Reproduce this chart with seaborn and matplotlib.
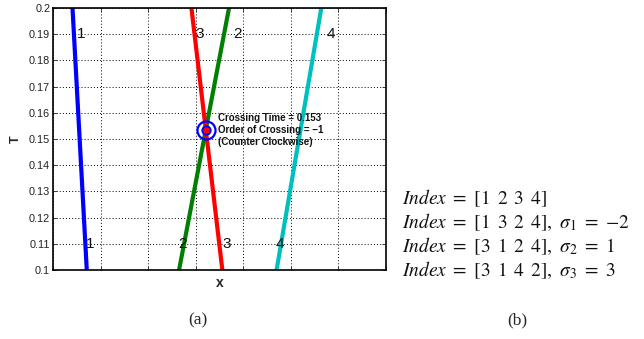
import matplotlib
matplotlib.use("Agg")
import matplotlib.pyplot as plt
import seaborn as sns
import pandas as pd
import numpy as np

# ---- data ----
paths = ["1", "2", "3", "4"]
x_bottom = [0.71, 2.65, 3.56, 4.70]   # x at T = 0.1
x_top = [0.41, 3.70, 2.91, 5.64]      # x at T = 0.2
t_bottom = 0.1
t_top = 0.2
path_colors = ["#0000ff", "#008000", "#ff0000", "#00bfbf"]

top_label_x = [0.60, 3.88, 3.09, 5.84]
top_label_t = 0.19
bottom_label_x = [0.79, 2.72, 3.65, 4.77]
bottom_label_t = 0.11

cross_x = 3.21
cross_t = 0.1534
cross_text = ["Crossing Time = 0.153", "Order of Crossing = \u22121", "(Counter Clockwise)"]

ytick_vals = [0.1, 0.11, 0.12, 0.13, 0.14, 0.15, 0.16, 0.17, 0.18, 0.19, 0.2]
ytick_labels = ["0.1", "0.11", "0.12", "0.13", "0.14", "0.15", "0.16", "0.17", "0.18", "0.19", "0.2"]
xtick_vals = [0, 1, 2, 3, 4, 5, 6, 7]

index_lines = [
    r"$Index\ =\ [1\ \,2\ \,3\ \,4]$",
    r"$Index\ =\ [1\ \,3\ \,2\ \,4],\ \sigma_1\ =\ {-}2$",
    r"$Index\ =\ [3\ \,1\ \,2\ \,4],\ \sigma_2\ =\ 1$",
    r"$Index\ =\ [3\ \,1\ \,4\ \,2],\ \sigma_3\ =\ 3$",
]

# ---- build table ----
rows = []
for p, xb, xt in zip(paths, x_bottom, x_top):
    rows.append({"x": xb, "T": t_bottom, "path": p})
    rows.append({"x": xt, "T": t_top, "path": p})
df = pd.DataFrame(rows)

sns.set_style("white")
plt.rcParams["font.family"] = ["Liberation Sans", "DejaVu Sans"]
plt.rcParams["mathtext.fontset"] = "stix"

fig = plt.figure(figsize=(6.44, 3.39), dpi=100)
ax = fig.add_axes([53 / 644, 1 - 270 / 339, (386 - 53) / 644, (270 - 8) / 339])

sns.lineplot(data=df, x="x", y="T", hue="path", palette=path_colors,
             sort=False, estimator=None, linewidth=3.0, legend=False, ax=ax)

ax.set_xlim(0, 7)
ax.set_ylim(0.1, 0.2)
ax.set_xticks(xtick_vals)
ax.set_xticklabels([])
ax.set_yticks(ytick_vals)
ax.set_yticklabels(ytick_labels, fontsize=7.8, color="#222222")
ax.tick_params(direction="in", length=3, width=0.6, top=True, right=True,
               bottom=True, left=True, pad=2)
ax.grid(True, linestyle=(0, (1, 2.2)), color="black", linewidth=0.7)
for s in ax.spines.values():
    s.set_color("black")
    s.set_linewidth(1.2)
ax.set_xlabel("x", fontsize=10, fontweight="bold", labelpad=2)
ax.set_ylabel("T", fontsize=9, fontweight="bold", labelpad=5)

for lx, p in zip(top_label_x, paths):
    ax.text(lx, top_label_t, p, fontsize=11, ha="center", va="center", color="#111111")
for lx, p in zip(bottom_label_x, paths):
    ax.text(lx, bottom_label_t, p, fontsize=11, ha="center", va="center", color="#111111")

# crossing marker
ax.plot([cross_x], [cross_t], marker="o", markersize=13, markerfacecolor="none",
        markeredgecolor="#0000ff", markeredgewidth=1.6, zorder=5)
ax.plot([cross_x], [cross_t], marker="o", markersize=6, markerfacecolor="#ff0000",
        markeredgecolor="#0000ff", markeredgewidth=1.4, zorder=6)
ax.text(cross_x + 0.26, cross_t, "\n".join(cross_text), fontsize=7,
        fontweight="bold", ha="left", va="center", linespacing=1.3, color="#111111")

# right panel text
ys = [198, 222, 246, 270]
for s, y in zip(index_lines, ys):
    fig.text(402 / 644, 1 - y / 339, s, fontsize=14, ha="left", va="center", color="#111111")

fig.text(198 / 644, 1 - 320 / 339, "(a)", fontsize=12.5, ha="center", va="center",
         family=["Liberation Serif", "DejaVu Serif"])
fig.text(517 / 644, 1 - 320 / 339, "(b)", fontsize=12.5, ha="center", va="center",
         family=["Liberation Serif", "DejaVu Serif"])

fig.savefig("out.png", dpi=100)
